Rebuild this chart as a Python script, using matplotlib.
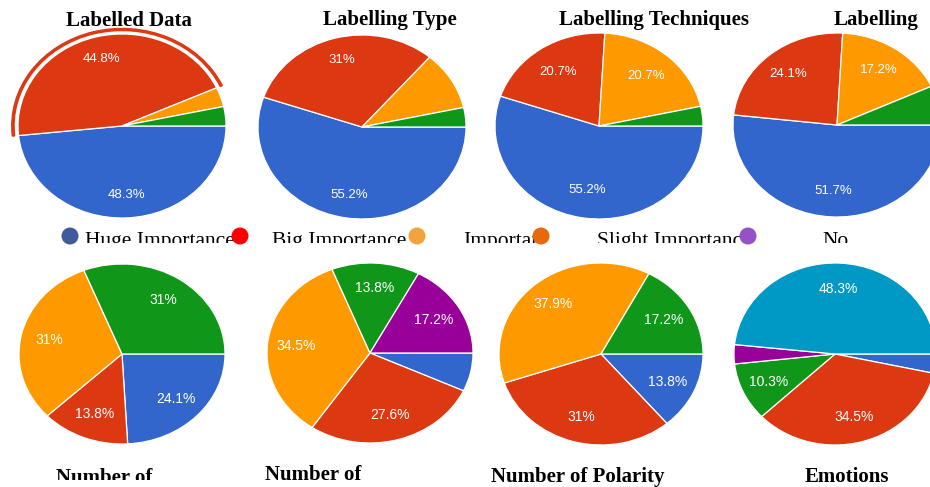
"""
Survey results: importance of dataset features, drawn as a grid of pies.
"""

import numpy as np
import matplotlib.pyplot as plt
from matplotlib.patches import Wedge

W, H = 930, 487

BLUE = "#3366CC"
RED = "#DC3912"
ORANGE = "#FF9900"
GREEN = "#109618"
PURPLE = "#990099"
TEAL = "#0099C6"

# values in percent (29 respondents), clockwise from 3 o'clock
labelled_data = [48.3, 44.8, 3.4, 3.4]
labelled_data_lbl = ["48.3%", "44.8%", "", ""]

labelling_type = [55.2, 31.0, 10.3, 3.4]
labelling_type_lbl = ["55.2%", "31%", "", ""]

labelling_tech = [55.2, 20.7, 20.7, 3.4]
labelling_tech_lbl = ["55.2%", "20.7%", "20.7%", ""]

labelling = [51.7, 24.1, 17.2, 6.9]
labelling_lbl = ["51.7%", "24.1%", "17.2%", ""]

number_of_a = [24.1, 13.8, 31.0, 31.0]
number_of_a_lbl = ["24.1%", "13.8%", "31%", "31%"]

number_of_b = [6.9, 27.6, 34.5, 13.8, 17.2]
number_of_b_lbl = ["", "27.6%", "34.5%", "13.8%", "17.2%"]

polarity = [13.8, 31.0, 37.9, 17.2]
polarity_lbl = ["13.8%", "31%", "37.9%", "17.2%"]

emotions = [3.4, 34.5, 10.3, 3.4, 48.3]
emotions_lbl = ["", "34.5%", "10.3%", "", "48.3%"]

legend_names = ["Huge Importance", "Big Importance", "Important",
                "Slight Importance", "No"]
legend_colors = ["#3F5B9C", "#FF0000", "#F2A43C", "#E6690C", "#9650C8"]

fig = plt.figure(figsize=(W / 100, H / 100), dpi=100)


def draw_pie(cx, cy, rx, ry, values, colors, labels, pct_r=0.72, fs=10):
    """
    Draws one pie centred at pixel (cx, cy), stretched to rx by ry.
    """
    L = 1.1
    ax = fig.add_axes([(cx - L * rx) / W, 1 - (cy + L * ry) / H,
                       2 * L * rx / W, 2 * L * ry / H])
    wedges, _ = ax.pie(values, colors=colors, startangle=0,
                       counterclock=False, radius=1,
                       wedgeprops=dict(edgecolor="white", linewidth=0.9))
    for w, lbl in zip(wedges, labels):
        if not lbl:
            continue
        mid = np.deg2rad((w.theta1 + w.theta2) / 2)
        ax.text(pct_r * np.cos(mid), pct_r * np.sin(mid), lbl,
                ha="center", va="center", color="white",
                fontsize=fs, family="Liberation Sans")
    ax.set_aspect("auto")
    ax.set_xlim(-L, L)
    ax.set_ylim(-L, L)
    ax.axis("off")
    return ax, wedges


four = [BLUE, RED, ORANGE, GREEN]

ax1, w1 = draw_pie(122, 126, 104, 92, labelled_data, four, labelled_data_lbl,
                   0.75, 9.5)
# hover highlight ring around the red slice
red = w1[1]
ax1.add_patch(Wedge((0, 0), 1.06, red.theta1, red.theta2, width=0.022,
                    color=RED, clip_on=False))

draw_pie(362, 127, 104, 92, labelling_type, four, labelling_type_lbl, 0.75, 9.5)
draw_pie(599, 126, 104, 93, labelling_tech, four, labelling_tech_lbl, 0.7, 9.5)
draw_pie(837, 125, 104, 92, labelling, four, labelling_lbl, 0.72, 9.5)

draw_pie(122, 354, 103, 90, number_of_a, four, number_of_a_lbl)
draw_pie(370, 353, 103, 90, number_of_b, [BLUE, RED, ORANGE, GREEN, PURPLE],
         number_of_b_lbl)
draw_pie(601, 354, 102, 91, polarity, four, polarity_lbl)
draw_pie(835, 354, 101, 91, emotions, [BLUE, RED, GREEN, PURPLE, TEAL],
         emotions_lbl)

# titles
title_kw = dict(ha="center", va="baseline", fontsize=15, fontweight="bold",
                family="Liberation Serif")
for name, x in [("Labelled Data", 129), ("Labelling Type", 390),
                ("Labelling Techniques", 654), ("Labelling", 876)]:
    fig.text(x / W, 1 - 25.5 / H, name, **title_kw)

for name, x, y in [("Number of", 313, 480), ("Number of Polarity", 578, 482),
                   ("Emotions", 847, 482)]:
    fig.text(x / W, 1 - y / H, name, **title_kw)

# first bottom title is cut off at the bottom in the source
cut = fig.add_axes([0, 1 - 480 / H, 0.3, 25 / H])
cut.set_xlim(0, 0.3 * W)
cut.set_ylim(480, 455)
cut.axis("off")
cut.text(104, 483, "Number of", clip_on=True, **title_kw)

# legend strip, text clipped at the bottom
leg = fig.add_axes([0, 1 - 243 / H, 1, 19 / H])
leg.set_xlim(0, W)
leg.set_ylim(243, 224)
leg.axis("off")
text_x = [85, 272, 463, 597, 822]
dot_x = [70, 240, 417, 541, 748]
for name, x in zip(legend_names, text_x):
    leg.text(x, 246, name, ha="left", va="baseline", fontsize=15.5,
             family="Liberation Serif", clip_on=True, zorder=2)
leg.scatter(dot_x, [236] * len(dot_x), s=150, c=legend_colors,
            clip_on=False, zorder=3, linewidths=0)

fig.savefig("out.png", dpi=100, facecolor="white")
